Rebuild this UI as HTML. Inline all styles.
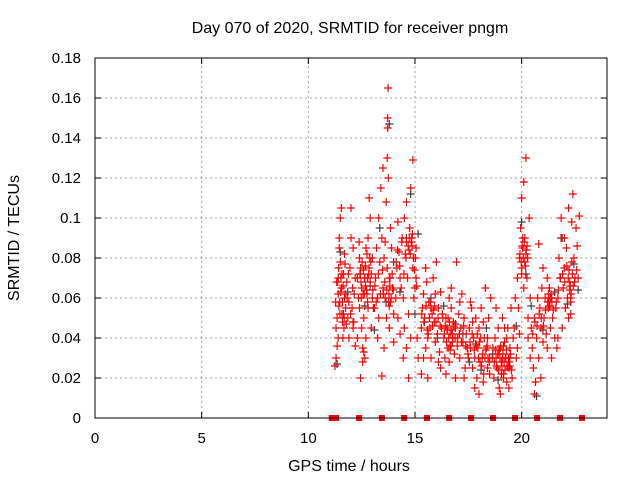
<!DOCTYPE html>
<html><head><meta charset="utf-8"><style>
html,body{margin:0;padding:0;background:#fff}
svg{display:block;font-family:"Liberation Sans",sans-serif}
</style></head><body>
<svg id="chart" width="640" height="480" viewBox="0 0 640 480">
<rect x="0" y="0" width="640" height="480" fill="#fff"/>
<text x="350" y="33" text-anchor="middle" font-size="16" fill="#000">Day 070 of 2020, SRMTID for receiver pngm</text>
<text x="349" y="471" text-anchor="middle" font-size="16" fill="#000">GPS time / hours</text>
<text x="19" y="238" text-anchor="middle" font-size="16" fill="#000" transform="rotate(-90 19 238)">SRMTID / TECUs</text>
<g id="grid"></g>
<g id="ticks"></g>
<g id="black"></g>
<g id="red"></g>
<g id="marks"></g>
<rect x="95" y="58" width="512" height="360" fill="none" stroke="#000" stroke-width="1"/>
</svg>
<script>
const xTicks=[0,5,10,15,20];
const yTicks=[0,0.02,0.04,0.06,0.08,0.1,0.12,0.14,0.16,0.18];
const yTickLabels=["0","0.02","0.04","0.06","0.08","0.1","0.12","0.14","0.16","0.18"];
const redX=[11.25,11.3,11.3,11.35,11.4,11.4,11.45,11.45,11.5,11.55,11.5,11.55,11.6,11.6,11.65,11.7,11.7,11.75,11.8,11.85,11.9,11.95,12.0,12.0,12.05,12.1,12.15,12.2,12.2,11.35,11.4,11.48,11.62,11.78,11.9,12.1,
12.3,12.35,12.4,12.4,12.45,12.5,12.5,12.55,12.6,12.6,12.65,12.7,12.7,12.75,12.8,12.8,12.85,12.9,12.9,12.95,13.0,13.0,12.45,12.55,12.65,12.75,12.85,12.95,13.05,12.3,12.38,12.62,
13.1,13.15,13.2,13.25,13.3,13.35,13.4,13.45,13.45,13.5,13.5,13.55,13.6,13.65,13.7,13.72,13.72,13.74,13.75,13.78,13.8,13.8,13.85,13.9,13.95,14.0,13.3,13.6,13.7,13.85,13.55,14.0,13.25,
14.1,14.15,14.2,14.25,14.3,14.35,14.4,14.45,14.5,14.5,14.55,14.6,14.6,14.65,14.7,14.7,14.75,14.8,14.85,14.9,14.9,14.95,15.0,15.05,15.1,15.15,14.3,14.45,14.8,15.05,14.2,14.6,
15.3,15.35,15.4,15.45,15.5,15.55,15.6,15.65,15.7,15.75,15.8,15.85,15.9,15.95,16.0,16.05,16.1,16.15,16.2,16.25,15.5,15.4,15.75,15.95,16.1,16.3,15.3,15.6,16.2,
16.35,16.4,16.45,16.5,16.55,16.6,16.6,16.65,16.7,16.75,16.8,16.85,16.9,16.95,17.0,17.05,17.1,17.15,17.2,17.25,17.3,17.35,17.4,17.45,16.45,16.7,16.9,17.1,17.3,17.5,
17.55,17.6,17.65,17.7,17.75,17.8,17.85,17.9,17.95,18.0,18.05,18.1,18.15,18.2,18.25,18.3,18.35,18.4,18.45,18.5,18.55,17.6,17.8,18.0,18.2,18.4,17.7,18.5,
18.65,18.7,18.75,18.8,18.85,18.9,18.95,19.0,19.05,19.1,19.15,19.2,19.25,19.3,19.35,19.4,19.45,19.5,19.55,18.8,19.0,19.2,19.4,19.6,18.9,19.1,19.3,
19.65,19.7,19.75,19.8,19.85,19.9,19.95,20.0,20.0,20.05,20.1,20.15,20.2,20.2,20.25,20.3,20.35,20.4,19.9,20.1,20.3,20.4,19.8,
20.45,20.5,20.55,20.6,20.65,20.7,20.75,20.8,20.85,20.9,20.95,21.0,21.05,21.1,21.15,21.2,21.25,21.3,21.35,21.4,21.45,20.6,20.8,21.0,21.2,20.9,21.4,
21.55,21.6,21.65,21.7,21.75,21.8,21.85,21.9,21.95,22.0,22.05,22.1,22.15,22.2,22.25,22.3,22.35,22.4,22.45,22.5,22.55,22.6,22.65,22.7,21.9,22.2,21.7,22.0,22.3,
11.38,11.42,11.47,11.52,11.57,11.63,11.68,11.73,11.43,11.53,11.58,11.67,11.72,11.33,11.28,11.82,11.88,11.98,12.08,12.13,
12.42,12.47,12.52,12.57,12.63,12.68,12.73,12.78,12.83,12.88,12.48,12.58,12.68,12.78,12.93,13.02,
13.12,13.18,13.28,13.38,13.48,13.58,13.68,13.76,13.82,13.88,13.93,13.98,13.83,13.79,13.66,13.52,
14.12,14.18,14.28,14.38,14.48,14.58,14.68,14.73,14.78,14.83,14.88,14.93,14.98,15.02,15.08,14.72,14.86,
15.32,15.42,15.52,15.58,15.68,15.72,15.82,15.88,15.98,16.08,16.18,16.28,15.62,15.92,
16.38,16.42,16.48,16.52,16.58,16.62,16.68,16.72,16.78,16.82,16.55,16.65,16.75,16.88,16.98,17.08,17.18,17.28,17.38,17.48,
17.58,17.68,17.78,17.88,17.98,18.08,18.18,18.28,18.38,18.48,18.12,18.22,18.32,18.42,18.02,17.92,
18.62,18.72,18.78,18.82,18.88,18.92,18.98,19.02,19.08,19.12,19.18,19.22,19.28,19.32,19.38,19.42,19.48,19.52,19.05,19.15,19.25,19.35,19.45,18.95,
19.92,19.98,20.02,20.08,20.12,20.18,20.22,20.28,20.05,20.15,20.25,20.0,
20.52,20.62,20.72,20.82,20.92,21.02,21.12,21.22,21.28,21.32,21.38,21.42,21.48,21.25,21.35,21.3,
21.62,21.72,21.82,21.92,22.02,22.12,22.18,22.22,22.28,22.32,22.38,22.42,22.25,22.35,22.3,22.48,22.58];
const redY=[.026,.03,.045,.05,.062,.07,.085,.09,.1,.105,.078,.065,.058,.048,.072,.082,.06,.055,.068,.05,.04,.075,.09,.105,.055,.045,.062,.036,.07,.036,.04,.052,.04,.047,.058,.085,
.07,.06,.055,.08,.075,.065,.045,.028,.033,.05,.07,.085,.04,.062,.055,.09,.075,.1,.068,.045,.06,.08,.02,.035,.03,.082,.11,.072,.055,.04,.088,.062,
.055,.07,.085,.06,.1,.078,.115,.021,.09,.125,.065,.08,.06,.108,.13,.145,.15,.165,.12,.062,.07,.045,.058,.085,.065,.038,.05,.088,.075,.095,.035,.052,.04,
.06,.075,.098,.083,.07,.065,.09,.06,.045,.1,.082,.088,.108,.07,.052,.02,.095,.115,.09,.129,.075,.06,.065,.085,.04,.03,.042,.03,.04,.07,.05,.035,
.045,.055,.062,.05,.035,.068,.04,.058,.045,.03,.052,.07,.048,.038,.078,.042,.055,.033,.063,.045,.075,.03,.055,.062,.028,.05,.022,.02,.025,
.04,.03,.05,.045,.035,.06,.028,.042,.055,.038,.048,.032,.045,.078,.04,.052,.03,.045,.062,.038,.05,.025,.042,.035,.022,.065,.02,.058,.02,.03,
.045,.035,.055,.025,.04,.03,.05,.02,.035,.045,.028,.055,.03,.018,.04,.065,.035,.025,.05,.03,.06,.058,.015,.012,.048,.04,.048,.022,
.035,.02,.04,.03,.025,.045,.015,.035,.028,.05,.022,.038,.03,.018,.045,.025,.035,.055,.02,.055,.012,.045,.015,.04,.032,.03,.04,
.045,.06,.03,.07,.055,.08,.095,.075,.11,.085,.065,.09,.082,.13,.07,.05,.1,.06,.042,.118,.04,.03,.035,
.045,.035,.025,.05,.018,.04,.06,.03,.055,.045,.065,.038,.05,.06,.042,.035,.055,.065,.045,.03,.05,.012,.087,.075,.07,.02,.06,
.04,.055,.035,.06,.08,.07,.1,.09,.065,.075,.055,.085,.06,.05,.068,.058,.098,.112,.08,.07,.095,.086,.07,.101,.045,.105,.04,.09,.052,
.068,.075,.058,.063,.072,.066,.05,.062,.056,.07,.052,.045,.077,.068,.058,.06,.072,.052,.065,.048,
.072,.068,.078,.062,.07,.076,.064,.058,.072,.08,.06,.074,.066,.07,.078,.064,
.066,.058,.072,.062,.074,.068,.064,.058,.066,.06,.072,.064,.07,.056,.05,.062,
.078,.084,.076,.088,.072,.08,.086,.09,.082,.088,.092,.08,.074,.08,.066,.084,.086,
.052,.048,.056,.044,.05,.058,.046,.054,.048,.05,.046,.052,.042,.056,
.042,.046,.038,.044,.04,.048,.036,.044,.04,.046,.05,.034,.042,.04,.036,.042,.038,.046,.036,.032,
.038,.042,.034,.036,.03,.04,.032,.03,.036,.028,.026,.022,.034,.03,.038,.042,
.03,.028,.034,.026,.032,.024,.03,.036,.026,.032,.028,.024,.034,.026,.03,.028,.032,.024,.022,.02,.03,.026,.03,.034,
.082,.078,.086,.08,.088,.076,.084,.08,.09,.078,.086,.072,
.042,.048,.046,.052,.05,.046,.054,.058,.06,.056,.062,.058,.054,.062,.06,.056,
.058,.064,.07,.072,.068,.076,.07,.074,.066,.062,.072,.066,.064,.078,.06,.068,.074];
const blackX=[11.3,11.45,11.6,11.8,12.05,12.4,12.6,12.85,13.05,13.3,13.6,13.75,13.95,14.25,14.55,14.75,14.95,15.1,15.4,15.7,16.0,16.3,16.6,16.85,17.2,17.5,17.8,18.05,18.3,18.6,18.85,19.1,19.4,19.7,19.95,20.15,20.4,20.65,20.95,21.2,21.5,21.8,22.1,22.4,22.6];
const blackY=[.027,.083,.052,.063,.048,.072,.056,.066,.044,.095,.058,.147,.078,.063,.09,.112,.052,.092,.048,.06,.04,.056,.036,.047,.042,.028,.037,.024,.045,.032,.019,.036,.026,.046,.098,.072,.056,.011,.044,.058,.063,.09,.057,.077,.064];
const markerHours=[11.1,11.3,12.38,13.45,14.49,15.56,16.6,17.63,18.66,19.69,20.72,21.8,22.83];
const X0=95,X1=607,Y0=418,Y1=58,XMAX=24,YMAX=0.18;
function sx(v){return X0+(X1-X0)*v/XMAX;}
function sy(v){return Y0-(Y0-Y1)*v/YMAX;}
const NS="http://www.w3.org/2000/svg";
function mk(tag,attrs,parent){const e=document.createElementNS(NS,tag);for(const k in attrs)e.setAttribute(k,attrs[k]);parent.appendChild(e);return e;}
const grid=document.getElementById('grid'),ticks=document.getElementById('ticks');
xTicks.forEach((t,i)=>{const x=sx(t);
 if(t>0){const l=mk('line',{x1:x,y1:Y0,x2:x,y2:Y1,stroke:'#a0a0a0','stroke-dasharray':'2,3'},grid);
 
 }
 mk('line',{x1:x,y1:Y0,x2:x,y2:Y0-6,stroke:'#000'},ticks);
 mk('line',{x1:x,y1:Y1,x2:x,y2:Y1+6,stroke:'#000'},ticks);
 const tx=mk('text',{x:x,y:443,'text-anchor':'middle','font-size':15,fill:'#000'},ticks);tx.textContent=String(t);
 
 });
yTicks.forEach((t,i)=>{const y=sy(t);
 if(t>0&&t<YMAX){const l=mk('line',{x1:X0,y1:y,x2:X1,y2:y,stroke:'#a0a0a0','stroke-dasharray':'2,3'},grid);
 
 }
 mk('line',{x1:X0,y1:y,x2:X0+6,y2:y,stroke:'#000'},ticks);
 mk('line',{x1:X1,y1:y,x2:X1-6,y2:y,stroke:'#000'},ticks);
 const tx=mk('text',{x:81,y:y+5,'text-anchor':'end','font-size':15,fill:'#000'},ticks);tx.textContent=yTickLabels[i];
 
 });
function plus(g,x,y,c,name){const p=mk('path',{d:`M${x-4},${y}h8M${x},${y-4}v8`,stroke:c,'stroke-width':1.2,fill:'none'},g);
 
 }
const bg=document.getElementById('black'),rg=document.getElementById('red');
blackX.forEach((h,i)=>plus(bg,sx(h)+1,sy(blackY[i]),'#404040','black-point'));
redX.forEach((h,i)=>plus(rg,sx(h),sy(redY[i]),'#ff0000','red-point'));
const mg=document.getElementById('marks');
markerHours.forEach(h=>{const r=mk('rect',{x:sx(h)-3,y:Y0-3,width:6,height:6,fill:'#ff0000'},mg);
 
 });
</script>
</body></html>
